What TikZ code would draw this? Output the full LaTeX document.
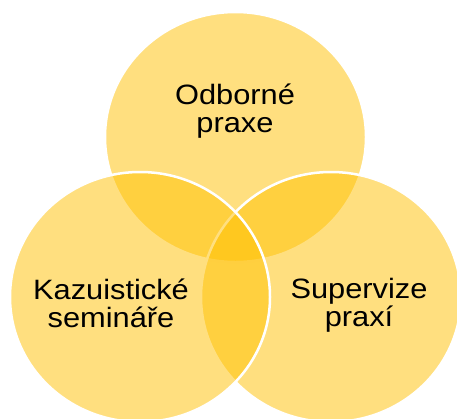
\documentclass[tikz,border=0pt]{standalone}
\usepackage{fontspec}
\setmainfont{Liberation Sans}
\definecolor{venn}{HTML}{FFC000}
\begin{document}
\begin{tikzpicture}[x=1pt, y=-1pt,
    ring/.style={fill=venn, fill opacity=0.5, draw=white, line width=2.5pt},
    lbl/.style={align=center, font=\fontsize{28}{28}\selectfont, xscale=1.1, transform shape, inner sep=0pt}]
    \useasboundingbox (0,0) rectangle (457,418);
    \clip (0,0) rectangle (457,418);
    % circles: top first, then right, left last
    \draw[ring] (235.5,137) ellipse [x radius=130.5, y radius=125];
    \draw[ring] (331,297) ellipse [x radius=130, y radius=125];
    \draw[ring] (140,297) ellipse [x radius=130, y radius=125];
    % labels
    \node[lbl] (odborne) at (235,111) {Odborné\\praxe};
    \node[lbl] (kazuist) at (111,303) {Kazuistické\\semináře};
    \node[lbl] (superv) at (359,305) {Supervize\\praxí};
\end{tikzpicture}
\end{document}
